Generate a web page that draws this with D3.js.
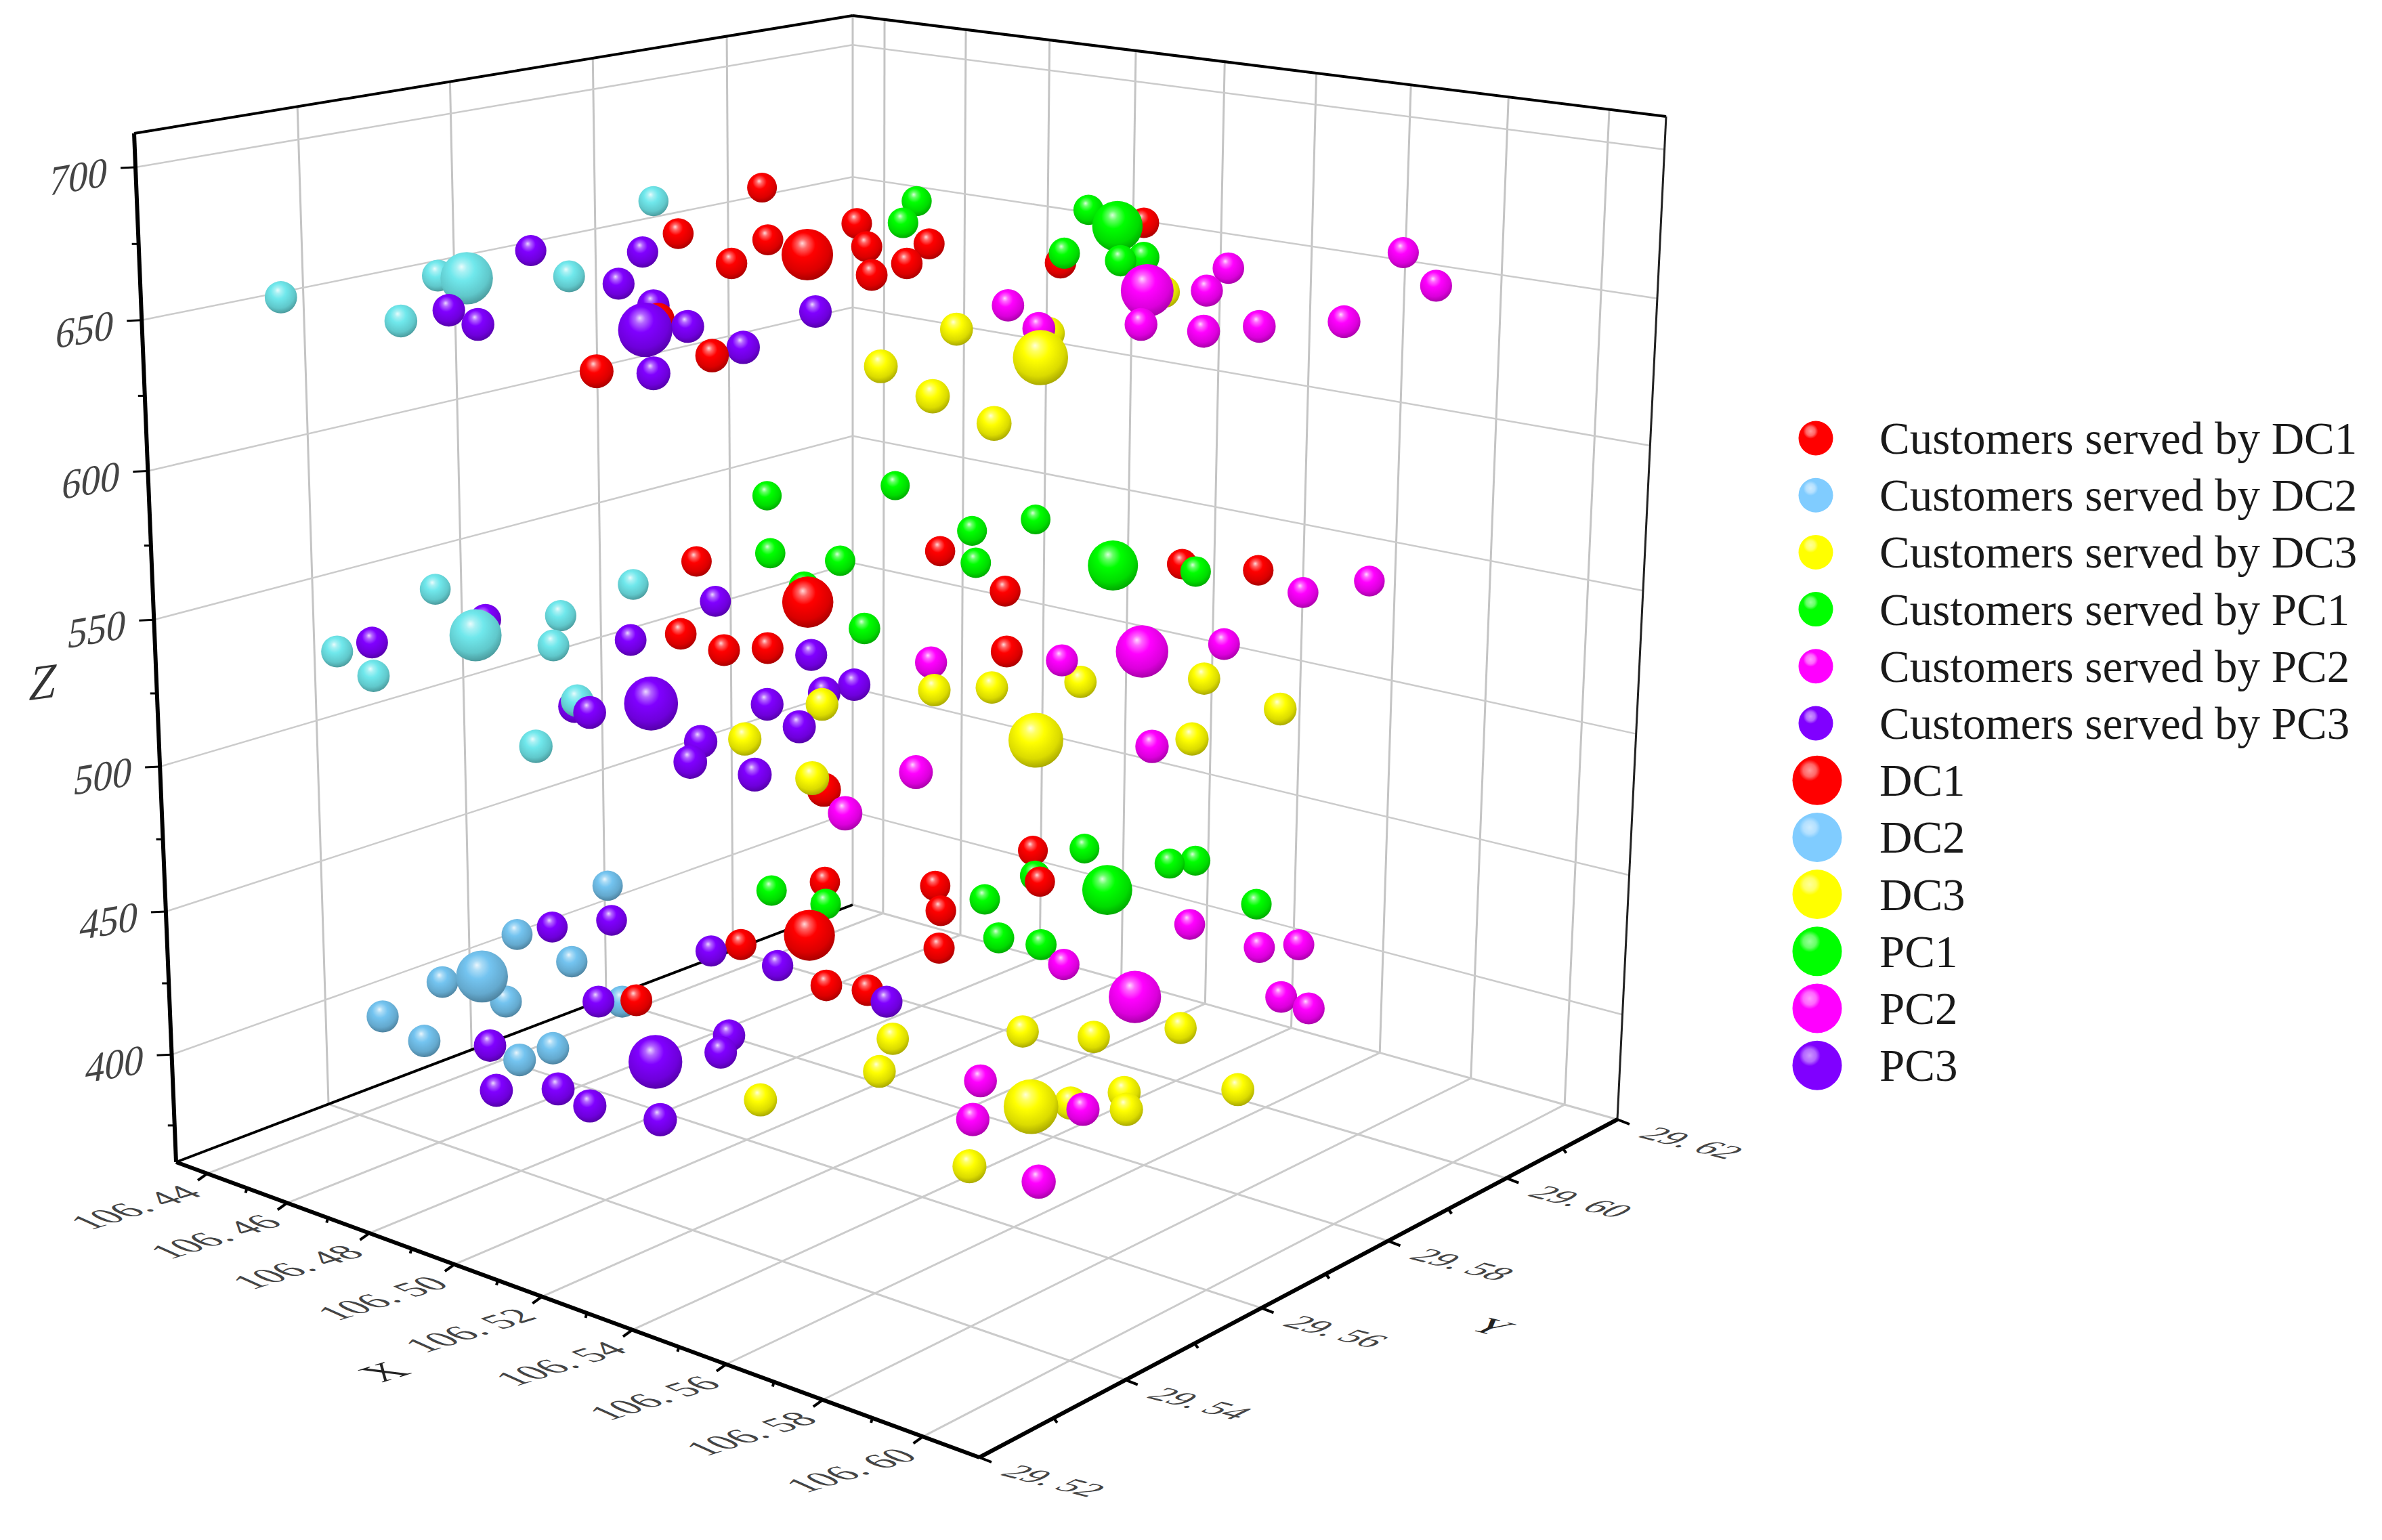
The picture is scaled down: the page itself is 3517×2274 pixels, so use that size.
<!DOCTYPE html>
<html>
<head>
<meta charset="utf-8">
<script src="https://cdn.jsdelivr.net/npm/d3@7"></script>
<style>
body { margin: 0; background: #fff; }
text { font-family: "Liberation Serif", serif; }
</style>
</head>
<body>
<svg id="chart" width="3517" height="2274"></svg>
<script>
// each series: three layers (top, middle, bottom), every layer a list of [x, y]
const layerZ = [655, 528, 403];

const custDC1 = [
    [[106.4361,29.6028],[106.4557,29.5781],[106.4716,29.5815],[106.4813,29.5702],[106.4732,29.5939],[106.4889,29.5852],[106.5061,29.5747],[106.5041,29.5812],[106.4955,29.5903],[106.5118,29.6131],[106.5236,29.5912],[106.5236,29.5269],[106.5293,29.5381],[106.5039,29.5464]],
    [[106.4452,29.5867],[106.4770,29.5651],[106.4898,29.5635],[106.4946,29.5668],[106.4745,29.6064],[106.5018,29.5983],[106.5273,29.5809],[106.5145,29.6186],[106.5278,29.6217],[106.5557,29.5359]],
    [[106.4594,29.5977],[106.4768,29.6043],[106.4868,29.5985],[106.4999,29.5894],[106.4712,29.5771],[106.4973,29.5736],[106.5045,29.5752],[106.4769,29.5582],[106.4776,29.6203],[106.4903,29.6126]]
];
const custDC2 = [
    [[106.4446,29.5308],[106.4735,29.5306],[106.4682,29.5554],[106.4304,29.5896],[106.4510,29.5475]],
    [[106.4229,29.5613],[106.4477,29.5757],[106.4527,29.5623],[106.4654,29.5540],[106.4399,29.5389],[106.4557,29.5353],[106.4922,29.5418],[106.5053,29.5289]],
    [[106.4297,29.5818],[106.4363,29.5645],[106.4542,29.5622],[106.4442,29.5495],[106.4599,29.5496],[106.4489,29.5388],[106.4631,29.5367],[106.4824,29.5433],[106.4820,29.5390],[106.4755,29.5570]]
];
const custDC3 = [
    [[106.5454,29.5607],[106.5543,29.5444],[106.5738,29.5383],[106.5922,29.5338],[106.5585,29.5647],[106.5523,29.5864]],
    [[106.5331,29.5661],[106.5394,29.5703],[106.5486,29.5772],[106.5632,29.5857],[106.5836,29.5821],[106.5828,29.5691],[106.5244,29.5557],[106.5280,29.5428],[106.5503,29.5378]],
    [[106.5237,29.5664],[106.5321,29.5589],[106.5385,29.5761],[106.5495,29.5794],[106.5583,29.5868],[106.5833,29.5771],[106.5658,29.5642],[106.5696,29.5696],[106.5746,29.5663],[106.5256,29.5461],[106.5706,29.5461]]
];
const custPC1 = [
    [[106.4670,29.6074],[106.4791,29.5972],[106.4964,29.6151],[106.5188,29.5952],[106.5303,29.5958],[106.5315,29.5986]],
    [[106.4213,29.6126],[106.4349,29.6253],[106.4515,29.5942],[106.4650,29.5966],[106.4693,29.6152],[106.4850,29.6051],[106.4729,29.6235],[106.5196,29.6171],[106.4990,29.5783],[106.4723,29.5863]],
    [[106.4844,29.6245],[106.5025,29.6264],[106.5052,29.6290],[106.4874,29.6138],[106.4680,29.5923],[106.4551,29.5919],[106.4889,29.6043],[106.5046,29.5958],[106.5128,29.5970],[106.5293,29.6216]]
];
const custPC2 = [
    [[106.5397,29.5720],[106.5655,29.5732],[106.5763,29.5745],[106.5808,29.5795],[106.5890,29.5862],[106.5571,29.5895],[106.5483,29.5996],[106.5630,29.6171],[106.5837,29.6055],[106.5550,29.5658]],
    [[106.5218,29.5732],[106.5380,29.5819],[106.5529,29.5967],[106.5432,29.6175],[106.5477,29.6256],[106.5606,29.5451],[106.5804,29.5649],[106.5661,29.5320]],
    [[106.5267,29.6119],[106.5440,29.6108],[106.5486,29.6141],[106.5226,29.5938],[106.5624,29.6003],[106.5695,29.5994],[106.5479,29.5632],[106.5581,29.5551],[106.5691,29.5637],[106.5831,29.5473]]
];
const custPC3 = [
    [[106.4471,29.5622],[106.4627,29.5688],[106.4789,29.5559],[106.4732,29.5368],[106.4848,29.5341],[106.4958,29.5506],[106.5114,29.5458],[106.5312,29.5295],[106.5289,29.5424],[106.5191,29.5583]],
    [[106.4445,29.5564],[106.4403,29.5433],[106.4669,29.5763],[106.4731,29.5603],[106.5032,29.5677],[106.5208,29.5626],[106.5202,29.5587],[106.5175,29.5524],[106.5301,29.5489],[106.4985,29.5398],[106.4942,29.5403],[106.5236,29.5396],[106.5299,29.5344],[106.5422,29.5353]],
    [[106.4383,29.5685],[106.4440,29.5740],[106.4694,29.5737],[106.4838,29.5748],[106.5109,29.5739],[106.4723,29.5555],[106.4733,29.5399],[106.5012,29.5568],[106.5056,29.5529],[106.4891,29.5319],[106.4965,29.5359],[106.5059,29.5347],[106.5190,29.5364]]
];

const siteDC1 = [[[106.4859,29.5783]],[[106.4798,29.5821]],[[106.4773,29.5838]]];
const siteDC2 = [[[106.4563,29.5484]],[[106.4505,29.5517]],[[106.4475,29.5532]]];
const siteDC3 = [[[106.5690,29.5562]],[[106.5641,29.5596]],[[106.5618,29.5611]]];
const sitePC1 = [[[106.5102,29.6099]],[[106.5054,29.6135]],[[106.5030,29.6151]]];
const sitePC2 = [[[106.5495,29.5859]],[[106.5450,29.5894]],[[106.5427,29.5909]]];
const sitePC3 = [[[106.5081,29.5422]],[[106.5026,29.5456]],[[106.5002,29.5470]]];

// spheres the reference draws behind their neighbours
const pushedBack = ["106.4942", "106.4755", "106.5585", "106.5236,29.5912", "106.5486", "106.5557"];

const customerLabels = ["Customers served by DC1", "Customers served by DC2", "Customers served by DC3", "Customers served by PC1", "Customers served by PC2", "Customers served by PC3"];
const siteLabels = ["DC1", "DC2", "DC3", "PC1", "PC2", "PC3"];
const seriesColors = ["#ff0000", "#80ccff", "#ffff00", "#00ff00", "#ff00ff", "#8000ff"];
const dc2LayerColors = ["#70e8ec", "#70e8ec", "#74c4f0"];

const xTicks = [106.44, 106.46, 106.48, 106.50, 106.52, 106.54, 106.56, 106.58, 106.60];
const xMinor = [106.45, 106.47, 106.49, 106.51, 106.53, 106.55, 106.57, 106.59];
const yTicks = [29.52, 29.54, 29.56, 29.58, 29.60, 29.62];
const yMinor = [29.53, 29.55, 29.57, 29.59, 29.61];
const zTicks = [400, 450, 500, 550, 600, 650, 700];
const zMinor = [375, 425, 475, 525, 575, 625, 675];

const svg = d3.select("#chart");
const defs = svg.append("defs");

// box corners on the page, used for the perspective
const floorQuad = { o: [260, 1716], a: [1446, 2152], b: [1259, 1336], d: [2388, 1653] };
const ceilQuad = { o: [198, 197], a: [1460, 408], b: [1259, 23], d: [2460, 172] };
const zBend = 0.955;

const xScale = d3.scaleLinear().domain([106.432, 106.611]).range([0, 1]);
const yScale = d3.scaleLinear().domain([29.52, 29.62]).range([0, 1]);
const zScale = d3.scaleLinear().domain([362, 711]).range([0, 1]);

function quadWeights(q) {
    const a1 = q.a[0] - q.d[0], b1 = q.b[0] - q.d[0], c1 = q.o[0] - q.d[0];
    const a2 = q.a[1] - q.d[1], b2 = q.b[1] - q.d[1], c2 = q.o[1] - q.d[1];
    const det = a1 * b2 - a2 * b1;
    return [(c1 * b2 - c2 * b1) / det, (a1 * c2 - a2 * c1) / det];
}

function quadMap(q) {
    const [wa, wb] = quadWeights(q);
    return (u, v) => {
        const d = 1 + u * (wa - 1) + v * (wb - 1);
        return [0, 1].map(i => (q.o[i] + u * (wa * q.a[i] - q.o[i]) + v * (wb * q.b[i] - q.o[i])) / d);
    };
}

const floorMap = quadMap(floorQuad);
const ceilMap = quadMap(ceilQuad);
const floorWeights = quadWeights(floorQuad);

function project(x, y, z) {
    const u = xScale(x), v = yScale(y), w = zScale(z);
    const t = zBend * w / (1 + (zBend - 1) * w);
    const p = floorMap(u, v), q = ceilMap(u, v);
    return [p[0] + (q[0] - p[0]) * t, p[1] + (q[1] - p[1]) * t];
}

// how far from the viewer; bigger means further away
function depth(x, y) {
    return 1 + xScale(x) * (floorWeights[0] - 1) + yScale(y) * (floorWeights[1] - 1);
}

const [xMin, xMax] = xScale.domain();
const [yMin, yMax] = yScale.domain();
const [zMin, zMax] = zScale.domain();

function drawLine(g, p1, p2, color, width) {
    g.append("line")
        .attr("x1", p1[0]).attr("y1", p1[1])
        .attr("x2", p2[0]).attr("y2", p2[1])
        .attr("stroke", color)
        .attr("stroke-width", width);
}

// grid on the floor and both walls
const grid = svg.append("g");
const gridColor = "#cbcbcb";
xTicks.forEach(x => {
    drawLine(grid, project(x, yMin, zMin), project(x, yMax, zMin), gridColor, 3);
    drawLine(grid, project(x, yMax, zMin), project(x, yMax, zMax), "#c4c4c4", 3);
});
yTicks.forEach(y => {
    drawLine(grid, project(xMin, y, zMin), project(xMax, y, zMin), gridColor, 3);
    drawLine(grid, project(xMin, y, zMin), project(xMin, y, zMax), "#c4c4c4", 3);
});
zTicks.forEach(z => {
    drawLine(grid, project(xMin, yMin, z), project(xMin, yMax, z), gridColor, 2.5);
    drawLine(grid, project(xMin, yMax, z), project(xMax, yMax, z), gridColor, 2.5);
});

// box edges and axes
const frame = svg.append("g");
drawLine(frame, project(xMin, yMin, zMin), project(xMin, yMax, zMin), "#000", 4);
drawLine(frame, project(xMin, yMin, zMax), project(xMin, yMax, zMax), "#000", 4);
drawLine(frame, project(xMin, yMax, zMax), project(xMax, yMax, zMax), "#000", 4);
drawLine(frame, project(xMax, yMax, zMin), project(xMax, yMax, zMax), "#222", 3);
drawLine(frame, project(xMin, yMin, zMin), project(xMin, yMin, zMax), "#000", 6);
drawLine(frame, project(xMin, yMin, zMin), project(xMax, yMin, zMin), "#000", 6);
drawLine(frame, project(xMax, yMin, zMin), project(xMax, yMax, zMin), "#000", 6);

function drawTicks(points, dx, dy, width) {
    points.forEach(p => drawLine(frame, p, [p[0] + dx, p[1] + dy], "#000", width));
}

drawTicks(zTicks.map(z => project(xMin, yMin, z)), -22, 1, 3);
drawTicks(zMinor.map(z => project(xMin, yMin, z)), -10, 0, 3);
drawTicks(xTicks.map(x => project(x, yMin, zMin)), -14, 10, 4);
drawTicks(xMinor.map(x => project(x, yMin, zMin)), -2, 7, 4);
drawTicks(yTicks.map(y => project(xMax, y, zMin)), 18, 7, 4);
drawTicks(yMinor.map(y => project(xMax, y, zMin)), 5, 7, 4);

// text laid on the planes of the box
function planeText(cx, cy, matrix, size, color, label) {
    svg.append("text")
        .attr("transform", `translate(${cx}, ${cy}) matrix(${matrix.join(",")},0,0)`)
        .attr("text-anchor", "middle")
        .attr("y", size * 0.33)
        .attr("font-size", size)
        .attr("fill", color)
        .text(label);
}

const xMatrix = [0.97, -0.3, 0.9, 0.4];
const yMatrix = [0.98, 0.25, -0.85, 0.42];
const zMatrix = [0.95, -0.16, -0.15, 1.05];

xTicks.forEach(x => {
    const p = project(x, yMin, zMin);
    planeText(p[0] - 106, p[1] + 50, xMatrix, 58, "#444", d3.format(".2f")(x).replace(".", ". "));
});
yTicks.forEach(y => {
    const p = project(xMax, y, zMin);
    planeText(p[0] + 110, p[1] + 35, yMatrix, 54, "#444", d3.format(".2f")(y).replace(".", ". "));
});
zTicks.forEach(z => {
    const p = project(xMin, yMin, z);
    planeText(p[0] - 84, p[1] + 14, zMatrix, 60, "#444", z);
});

planeText(567, 2026, xMatrix, 66, "#222", "X");
planeText(2203, 1959, yMatrix, 60, "#222", "Y");
planeText(65, 1007, [1.1, -0.15, -0.2, 1.2], 62, "#333", "Z");

// sphere shading
function sphereGradient(color) {
    const id = "ball" + color.slice(1);
    if (defs.select("#" + id).empty()) {
        const white = d3.interpolateRgb(color, "#fff");
        const dark = d3.interpolateRgb(color, "#000");
        const g = defs.append("radialGradient").attr("id", id)
            .attr("cx", 0.46).attr("cy", 0.38).attr("r", 0.72)
            .attr("fx", 0.4).attr("fy", 0.28);
        [[0, white(0.85)], [0.13, white(0.4)], [0.33, color], [0.68, dark(0.14)], [1, dark(0.45)]]
            .forEach(s => g.append("stop").attr("offset", s[0]).attr("stop-color", s[1]));
    }
    return `url(#${id})`;
}

function legendGradient(color) {
    const id = "key" + color.slice(1);
    const white = d3.interpolateRgb(color, "#fff");
    const g = defs.append("radialGradient").attr("id", id)
        .attr("cx", 0.35).attr("cy", 0.3).attr("r", 0.72);
    [[0, white(0.6)], [0.18, white(0.4)], [0.3, color], [1, color]]
        .forEach(s => g.append("stop").attr("offset", s[0]).attr("stop-color", s[1]));
    return `url(#${id})`;
}

const radius = { customer: 24, site: 39.5 };
const marks = [];

function addMarks(layers, color, kind) {
    layers.forEach((layer, i) => {
        layer.forEach(d => marks.push({
            x: d[0],
            y: d[1],
            z: layerZ[i],
            kind: kind,
            color: Array.isArray(color) ? color[i] : color
        }));
    });
}

[custDC1, custDC2, custDC3, custPC1, custPC2, custPC3].forEach((layers, i) => {
    addMarks(layers, i === 1 ? dc2LayerColors : seriesColors[i], "customer");
});
[siteDC1, siteDC2, siteDC3, sitePC1, sitePC2, sitePC3].forEach((layers, i) => {
    addMarks(layers, i === 1 ? dc2LayerColors : seriesColors[i], "site");
});

function drawOrder(d) {
    const key = d.x.toFixed(4) + "," + d.y.toFixed(4);
    const back = pushedBack.some(p => key.startsWith(p));
    return depth(d.x, d.y) + (d.kind === "site" ? -0.025 : 0) + (back ? 0.05 : 0);
}

// far spheres first so near ones cover them
marks.sort((a, b) => drawOrder(b) - drawOrder(a));

svg.append("g").selectAll("circle")
    .data(marks)
    .join("circle")
    .attr("cx", d => project(d.x, d.y, d.z)[0])
    .attr("cy", d => project(d.x, d.y, d.z)[1])
    .attr("r", d => radius[d.kind] / Math.pow(depth(d.x, d.y), 0.7))
    .attr("fill", d => sphereGradient(d.color));

// legend
const legend = svg.append("g");
const rowY = d3.scaleLinear().domain([0, 1]).range([647, 731.2]);
customerLabels.concat(siteLabels).forEach((label, i) => {
    const big = i >= 6;
    const y = rowY(i);
    legend.append("circle")
        .attr("cx", big ? 2683 : 2681)
        .attr("cy", y)
        .attr("r", big ? 36.5 : 25.5)
        .attr("fill", big ? `url(#key${seriesColors[i % 6].slice(1)})` : legendGradient(seriesColors[i % 6]));
    legend.append("text")
        .attr("x", 2775)
        .attr("y", y + 23)
        .attr("font-size", 67)
        .attr("fill", "#1a1a1a")
        .text(label);
});
</script>
</body>
</html>
